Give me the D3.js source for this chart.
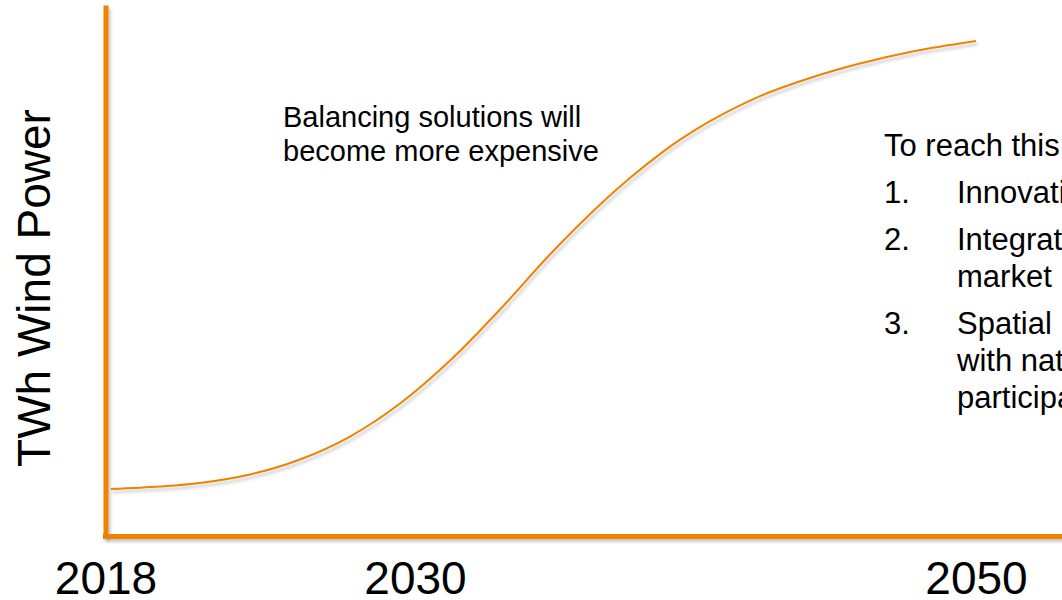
<!DOCTYPE html>
<html>
<head>
<meta charset="utf-8">
<script src="https://cdn.jsdelivr.net/npm/d3@7"></script>
<style>
  body { margin: 0; background: #fff; }
  svg { display: block; }
</style>
</head>
<body>
<div id="chart"></div>
<script>
// years on the x axis (slide axis is hand placed, so piecewise)
let tickYears = [2018, 2030, 2050];

// wind power curve (relative units 0-100)
let years = [2018.21, 2020.11, 2021.66, 2023.6, 2025.54, 2027.48, 2029.42, 2031.25, 2033.03, 2034.81,
             2036.6, 2037.66, 2038.73, 2039.45, 2040.52, 2042.3, 2044.08, 2045.86, 2047.65, 2049.43, 2050];
let twh = [8.94, 9.41, 10.07, 11.67, 14.49, 18.81, 25.02, 33.11, 42.71, 53.06,
           62.46, 67.43, 71.95, 74.66, 78.16, 82.86, 86.27, 88.99, 91.16, 92.76, 93.23];

let note1 = ["Balancing solutions will", "become more expensive"];
let intro = "To reach this goal:";
let steps = [
    {n: "1.", lines: ["Innovation"]},
    {n: "2.", lines: ["Integration European", "market"]},
    {n: "3.", lines: ["Spatial", "with nature and public", "participation"]}
];

const W = 1062, H = 600;
const orange = "#EF8200";
const font = "Arial, 'Liberation Sans', sans-serif";

svg = d3.select('#chart')
    .append('svg')
    .attr("width", W)
    .attr("height", H);

// soft shadow like the slide (user space so thin lines keep it)
let defs = svg.append("defs");
defs.append("filter")
    .attr("id", "shadow")
    .attr("filterUnits", "userSpaceOnUse")
    .attr("x", -20).attr("y", -20)
    .attr("width", W + 40).attr("height", H + 40)
    .append("feDropShadow")
    .attr("dx", 2).attr("dy", 3)
    .attr("stdDeviation", 1.5)
    .attr("flood-color", "#000")
    .attr("flood-opacity", 0.22);

x = d3.scaleLinear()
    .domain([2018, 2030, 2050])
    .range([105.5, 415, 976]);

y = d3.scaleLinear()
    .domain([0, 100])
    .range([536.5, 5]);

// Y axis (no ticks, just the thick line)
svg.append("g")
    .attr("transform", `translate(${x(2018)},0)`)
    .call(d3.axisLeft(y).tickValues([]).tickSize(0).tickSizeOuter(0))
    .call(g => g.select(".domain")
        .attr("stroke", orange)
        .attr("stroke-width", 5)
        .attr("filter", "url(#shadow)"));

// X axis line runs to the edge of the slide
svg.append("line")
    .attr("x1", x(2018) - 2.5)
    .attr("x2", W + 10)
    .attr("y1", y(0))
    .attr("y2", y(0))
    .attr("stroke", orange)
    .attr("stroke-width", 5)
    .attr("filter", "url(#shadow)");

// X tick labels
let xAxis = svg.append("g")
    .attr("transform", `translate(0,${y(0)})`)
    .call(d3.axisBottom(x).tickValues(tickYears).tickFormat(d3.format("d")).tickSize(0).tickPadding(25))
    .call(g => g.select(".domain").remove());
xAxis.selectAll("text")
    .attr("fill", "#000")
    .style("font-family", font)
    .style("font-size", "46px");

// the curve
let pts = years.map((d, i) => ({year: d, v: twh[i]}));
let line = d3.line()
    .x(d => x(d.year))
    .y(d => y(d.v))
    .curve(d3.curveCatmullRom.alpha(0.5));

svg.append("path")
    .datum(pts)
    .attr("d", line)
    .attr("fill", "none")
    .attr("stroke", orange)
    .attr("stroke-width", 2)
    .attr("filter", "url(#shadow)");

// Y title
svg.append("text")
    .text("TWh Wind Power")
    .attr("transform", "translate(50,288) rotate(-90)")
    .attr("text-anchor", "middle")
    .style("font-family", font)
    .style("font-size", "46px");

// Annotation in the middle
svg.append("text")
    .attr("x", 283)
    .attr("y", 127)
    .style("font-family", font)
    .style("font-size", "29px")
    .selectAll("tspan")
    .data(note1)
    .join("tspan")
    .attr("x", 283)
    .attr("dy", (d, i) => i ? 34 : 0)
    .text(d => d);

// Right hand list (runs off the slide)
let box = svg.append("g")
    .style("font-family", font)
    .style("font-size", "31px");

box.append("text")
    .attr("x", 884)
    .attr("y", 156)
    .text(intro);

let yy = 156;
steps.forEach(s => {
    yy += 47;
    box.append("text").attr("x", 884).attr("y", yy).text(s.n);
    s.lines.forEach((l, i) => {
        if (i) yy += 37;
        box.append("text").attr("x", 957).attr("y", yy).text(l);
    });
});
</script>
</body>
</html>
